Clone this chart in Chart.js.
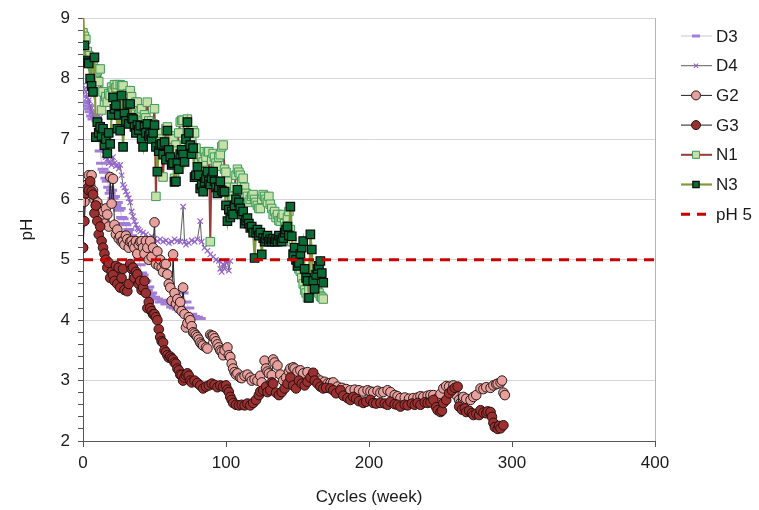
<!DOCTYPE html>
<html>
<head>
<meta charset="utf-8">
<script src="https://cdn.jsdelivr.net/npm/chart.js@4.4.1/dist/chart.umd.min.js"></script>
<style>
  html, body { margin: 0; padding: 0; background: #fff; }
  #wrap { width: 759px; height: 510px; }
</style>
</head>
<body>
<div id="wrap"><canvas id="chart" width="759" height="510"></canvas></div>
<script>
// weeks for the N series (one reading per week)
const weeks = [
  0,1,2,3,4,5,6,7,8,9, 10,11,12,13,14,15,16,17,18,19,
  20,21,22,23,24,25,26,27,28,29, 30,31,32,33,34,35,36,37,38,39,
  40,41,42,43,44,45,46,47,48,49, 50,51,52,53,54,55,56,57,58,59,
  60,61,62,63,64,65,66,67,68,69, 70,71,72,73,74,75,76,77,78,79,
  80,81,82,83,84,85,86,87,88,89, 90,91,92,93,94,95,96,97,98,99,
  100,101,102,103,104,105,106,107,108,109, 110,111,112,113,114,115,116,117,118,119,
  120,121,122,123,124,125,126,127,128,129, 130,131,132,133,134,135,136,137,138,139,
  140,141,142,143,144,145,146,147,148,149, 150,151,152,153,154,155,156,157,158,159,
  160,161,162,163,164,165,166,167,168
];

const d3Cycles = [
  0,1,2,3,4,5,6,7,8,9,
  10,11,12,13,14,15,16,17,18,19,
  20,21,22,23,24,25,26,27,28,29,
  30,31,32,33,34,35,36,37,38,39,
  40,41,42,43,44,45,46,47,48,50,
  52,54,56,58,60,62,64,66,68,70,
  72,74,76,78,80,82
];
const d3PH = [
  7.7,7.6,7.62,7.5,7.55,7.45,7.38,7.33,7.4,7.36,
  7.3,7.0,6.8,6.6,6.5,6.45,6.35,6.3,6.2,6.1,
  6.15,6.02,6.05,5.9,5.95,5.82,5.85,5.7,5.68,5.6,
  5.58,5.45,5.5,5.38,5.4,5.28,5.3,5.18,5.1,5.02,
  4.92,4.78,4.75,4.62,4.65,4.5,4.55,4.42,4.45,4.38,
  4.35,4.3,4.33,4.27,4.3,4.22,4.2,4.18,4.15,4.45,
  4.3,4.2,4.1,4.06,4.05,4.03
];

const d4Cycles = [
  0,1,2,3,4,5,6,7,8,10,
  12,14,15,16,17,18,19,20,21,22,
  23,24,25,26,27,28,29,30,31,32,
  33,34,35,36,37,38,39,40,42,44,
  46,48,50,52,54,56,58,60,62,64,
  66,68,70,71,72,74,76,78,80,82,
  83,85,87,89,91,93,95,96,97,98,
  99,100,101,102,103
];
const d4PH = [
  7.89,7.82,7.78,7.69,7.64,7.55,7.45,7.4,7.33,7.3,
  7.36,7.0,6.74,6.7,6.67,6.6,6.62,6.57,6.7,6.6,
  6.55,6.57,6.51,6.57,6.4,6.24,6.2,6.13,6.08,6.02,
  5.95,5.8,5.72,5.64,5.58,5.52,5.5,5.47,5.45,5.42,
  5.36,5.39,5.35,5.31,5.34,5.3,5.32,5.28,5.3,5.34,
  5.31,5.3,5.88,5.3,5.25,5.28,5.32,5.3,5.34,5.64,
  5.3,5.2,5.15,5.09,5.05,5.0,4.98,4.85,4.8,4.93,
  4.85,4.95,4.98,4.82,4.98
];

const g2Cycles = [
  0,1,2,3,4,5,6,7,8,9,
  10,11,12,13,14,15,16,17,18,19,
  20,21,22,23,24,25,26,27,28,29,
  30,31,32,33,34,35,36,37,38,39,
  40,41,42,43,44,45,46,47,48,49,
  50,51,52,53,54,55,56,57,58,59,
  60,61,62,63,64,65,66,67,68,69,
  70,71,72,73,74,75,76,77,78,79,
  80,81,82,83,84,86,87,89,90,91,
  92,93,94,95,96,97,98,99,101,102,
  103,104,105,106,107,108,110,111,113,115,
  117,118,120,122,124,125,127,128,129,130,
  132,133,134,136,138,140,142,144,145,147,
  148,150,152,154,157,160,163,166,169,171,
  173,175,178,181,184,187,190,193,196,199,
  201,203,206,208,210,213,215,218,220,222,
  225,228,231,234,236,238,241,243,245,248,
  250,252,254,256,259,261,263,264,266,268,
  271,273,275,278,280,282,285,287,289,290,
  292,293,294,295
];
const g2PH = [
  5.2,5.96,6.1,6.25,6.4,6.24,6.4,6.15,6.0,5.9,
  5.95,5.8,5.85,5.7,5.8,5.6,5.85,5.75,5.55,6.37,
  5.93,6.34,5.58,5.42,5.5,5.35,5.39,5.3,5.31,5.25,
  5.4,5.34,5.2,5.3,5.31,5.25,5.2,5.31,5.1,5.25,
  5.3,5.31,5.2,5.1,5.31,5.2,5.0,5.31,5.05,5.2,
  5.62,4.93,5.14,4.9,5.0,4.87,4.8,4.93,4.93,4.76,
  4.6,4.54,4.32,5.09,4.45,4.27,4.35,4.2,4.3,4.15,
  4.54,4.1,3.88,3.95,4.05,4.0,3.9,3.8,3.78,3.75,
  3.72,3.68,3.63,3.6,3.58,3.55,3.53,3.76,3.74,3.74,
  3.7,3.65,3.6,3.55,3.5,3.48,3.42,3.5,3.55,3.42,
  3.39,3.28,3.2,3.14,3.1,3.12,3.05,3.04,3.08,3.1,
  3.05,3.0,3.02,3.0,3.08,2.97,3.33,3.2,3.15,3.12,
  3.09,3.35,3.3,3.25,3.1,3.0,3.05,3.15,3.2,3.22,
  3.2,3.15,3.17,3.12,3.14,3.08,3.05,3.0,2.98,2.95,
  2.96,2.97,2.9,2.88,2.86,2.84,2.85,2.84,2.82,2.84,
  2.82,2.81,2.83,2.8,2.81,2.84,2.81,2.76,2.74,2.71,
  2.72,2.7,2.71,2.72,2.74,2.73,2.75,2.76,2.76,2.71,
  2.78,2.87,2.91,2.9,2.92,2.76,2.68,2.63,2.73,2.7,
  2.68,2.73,2.76,2.87,2.86,2.89,2.88,2.92,2.94,2.95,
  2.97,3.0,2.8,2.76
];

const g3Cycles = [
  0,1,2,3,4,5,6,7,8,9,
  10,11,12,13,14,15,16,17,18,19,
  20,21,22,23,24,25,26,27,28,29,
  31,32,33,34,35,36,37,38,39,40,
  41,42,43,44,45,46,47,48,49,50,
  51,52,53,54,55,56,57,58,59,60,
  61,62,63,64,65,66,67,68,69,70,
  71,72,73,74,75,76,78,80,82,84,
  86,88,90,92,94,96,98,100,101,102,
  103,104,105,107,109,111,113,115,117,119,
  121,123,124,126,128,129,131,132,133,135,
  137,139,141,143,145,147,149,151,153,155,
  157,159,161,162,164,166,168,170,173,175,
  177,180,182,185,187,189,191,193,196,198,
  201,203,205,208,211,213,215,218,220,222,
  225,227,230,232,234,236,239,241,243,245,
  247,248,250,251,252,254,256,258,260,262,
  263,265,267,268,270,272,273,275,277,278,
  280,282,283,285,286,287,288,290,291,292,
  294
];
const g3PH = [
  5.2,5.64,6.1,6.18,6.15,6.3,6.13,6.08,5.77,5.9,
  5.64,5.42,5.55,5.31,5.2,5.1,5.0,4.87,4.95,4.7,
  4.8,4.75,4.65,4.9,4.6,4.87,4.54,4.7,4.85,4.5,
  4.48,4.6,4.93,4.85,4.87,4.7,4.8,4.76,4.6,4.65,
  4.5,4.54,4.65,4.45,4.2,4.3,4.2,4.15,4.1,4.1,
  4.05,4.0,3.85,3.72,3.65,3.63,3.5,3.47,3.42,3.38,
  3.4,3.37,3.35,3.3,3.28,3.2,3.17,3.1,3.09,3.0,
  3.05,3.09,3.12,3.08,3.0,2.97,3.0,2.96,2.92,2.87,
  2.9,2.92,2.95,2.93,2.89,2.92,2.9,2.92,2.85,2.81,
  2.73,2.68,2.63,2.6,2.59,2.6,2.59,2.62,2.59,2.63,
  2.68,2.76,2.82,2.84,2.9,2.81,2.84,2.97,2.95,2.8,
  2.76,2.81,2.87,2.95,3.05,2.92,2.87,3.0,2.95,2.92,
  2.98,3.05,3.13,3.0,2.95,2.9,2.87,2.88,2.87,2.84,
  2.79,2.84,2.75,2.71,2.68,2.73,2.7,2.66,2.63,2.65,
  2.68,2.63,2.62,2.63,2.62,2.6,2.65,2.61,2.6,2.57,
  2.6,2.59,2.62,2.6,2.63,2.6,2.64,2.63,2.64,2.68,
  2.56,2.51,2.48,2.5,2.63,2.68,2.79,2.84,2.88,2.9,
  2.57,2.52,2.54,2.48,2.5,2.46,2.43,2.45,2.43,2.51,
  2.47,2.46,2.49,2.48,2.4,2.3,2.23,2.2,2.25,2.21,
  2.26
];

const n1PH = [
  8.76,8.7,8.65,8.45,8.38,8.3,8.24,8.2,8.16,8.1,
  8.13,7.95,8.16,7.48,7.78,7.61,7.7,7.61,7.75,7.72,
  7.86,7.8,7.9,7.85,7.9,7.7,7.9,7.88,7.88,7.65,
  7.7,7.75,7.6,7.8,7.7,7.5,7.55,7.61,7.61,7.4,
  7.45,7.5,7.3,7.4,7.35,7.61,7.3,7.2,7.07,7.25,
  7.5,6.05,7.1,7.0,6.95,6.84,6.37,6.9,7.17,7.2,
  6.95,7.05,6.85,7.0,6.35,6.9,6.8,7.1,7.28,7.31,
  7.31,6.9,7.0,7.33,6.95,6.9,7.0,7.14,7.1,6.85,
  6.7,6.6,6.18,6.7,6.62,6.79,6.7,6.79,6.79,5.3,
  6.65,6.76,6.7,6.6,6.55,6.7,6.74,6.87,6.9,6.5,
  6.45,6.3,6.2,6.1,6.05,6.0,6.2,6.4,6.5,6.45,
  6.4,6.3,6.35,6.2,6.1,6.05,5.95,6.0,6.05,6.08,
  6.0,5.95,5.9,5.85,5.85,6.0,6.08,6.05,6.0,5.95,
  6.05,5.92,5.85,5.75,5.8,5.7,5.75,5.65,5.64,5.7,
  5.75,5.6,5.55,5.7,5.8,5.5,5.3,5.1,5.05,5.0,
  4.9,4.85,4.81,4.7,4.6,4.5,4.45,4.37,4.5,4.7,
  4.8,4.9,4.75,4.6,4.5,4.45,4.4,4.38,4.35
];

const n3PH = [
  9.2,8.55,8.3,8.27,8.25,8.0,7.88,7.78,8.35,7.03,
  7.28,7.1,7.2,7.05,7.17,6.9,7.0,6.76,7.1,6.92,
  7.4,7.69,7.5,7.56,7.17,7.4,7.14,7.72,6.87,7.42,
  7.3,7.58,7.25,7.58,7.35,7.33,7.2,7.1,7.23,7.15,
  7.22,7.0,6.87,7.2,7.1,7.25,7.05,7.08,7.0,7.1,
  7.23,6.87,6.46,6.8,6.9,6.92,6.74,6.95,6.66,7.14,
  6.82,6.7,6.57,6.6,6.29,6.3,6.6,6.5,6.75,6.82,
  6.74,6.62,7.0,7.28,7.1,6.9,6.75,6.85,6.37,6.4,
  6.54,6.4,6.18,6.24,6.13,6.29,6.35,6.46,6.3,6.25,
  6.35,6.46,6.3,6.2,6.1,6.2,6.3,6.15,6.13,6.13,
  5.9,5.64,5.83,5.7,5.8,5.75,5.9,6.0,6.16,5.95,
  5.85,5.75,5.8,5.6,5.65,5.69,5.6,5.53,5.55,5.45,
  5.03,5.45,5.5,5.4,5.45,5.09,5.36,5.3,5.35,5.4,
  5.3,5.34,5.3,5.35,5.3,5.34,5.3,5.4,5.33,5.3,
  5.36,5.45,5.5,5.55,5.4,5.88,5.39,5.09,5.2,5.0,
  4.9,4.95,5.1,5.2,5.31,4.85,4.7,4.65,4.37,5.42,
  5.17,4.65,4.52,4.75,4.85,4.9,4.98,4.78,4.62
];

const refCycles = [0, 400];
const refPH = [5, 5];

const xTicks = [0, 100, 200, 300, 400];

function series(xs, ys) {
  return xs.map((x, i) => ({ x: x, y: ys[i] }));
}

const FONT = "'Liberation Sans', Arial, sans-serif";
const isWhole = (v) => Math.abs(v - Math.round(v)) < 1e-6;

// legend drawn at the right like the original spreadsheet chart
const sideLegend = {
  id: "sideLegend",
  afterDraw(chart) {
    const ctx = chart.ctx;
    ctx.save();
    chart.data.datasets.forEach((ds, i) => {
      const y = 36 + i * 29.7;
      ctx.strokeStyle = ds.borderColor;
      ctx.lineWidth = ds.borderWidth;
      ctx.setLineDash(ds.borderDash ? [9, 7] : []);
      ctx.beginPath();
      ctx.moveTo(681, y);
      ctx.lineTo(712, y);
      ctx.stroke();
      ctx.setLineDash([]);
      if (ds.pointRadius > 0) {
        ctx.fillStyle = ds.pointBackgroundColor;
        ctx.strokeStyle = ds.pointBorderColor;
        ctx.lineWidth = ds.pointBorderWidth;
        Chart.helpers.drawPoint(ctx, {
          pointStyle: ds.pointStyle,
          radius: ds.legendRadius,
          borderWidth: ds.pointBorderWidth,
          rotation: 0,
        }, 696, y);
      }
      ctx.fillStyle = "#1a1a1a";
      ctx.font = "17px " + FONT;
      ctx.textAlign = "left";
      ctx.textBaseline = "middle";
      ctx.fillText(ds.label, 716, y + 1);
    });
    ctx.restore();
  },
};

const purple = "#9466CC";

new Chart(document.getElementById("chart"), {
  type: "scatter",
  data: {
    datasets: [
      {
        label: "D3",
        data: series(d3Cycles, d3PH),
        showLine: true,
        borderColor: "#C8C8C8",
        borderWidth: 1,
        pointStyle: "line",
        pointRadius: 5.5,
        legendRadius: 4,
        pointBorderColor: "#A27ED6",
        pointBackgroundColor: "#A27ED6",
        pointBorderWidth: 3,
        order: 6,
      },
      {
        label: "D4",
        data: series(d4Cycles, d4PH),
        showLine: true,
        borderColor: "#5E5E5E",
        borderWidth: 1,
        pointStyle: "crossRot",
        pointRadius: 3.8,
        legendRadius: 3,
        pointBorderColor: purple,
        pointBackgroundColor: purple,
        pointBorderWidth: 1.2,
        order: 5,
      },
      {
        label: "G2",
        data: series(g2Cycles, g2PH),
        showLine: true,
        borderColor: "#1E1E1E",
        borderWidth: 1,
        pointStyle: "circle",
        pointRadius: 4.8,
        legendRadius: 4.5,
        pointBackgroundColor: "#E8A09C",
        pointBorderColor: "#2A1A1A",
        pointBorderWidth: 1,
        order: 4,
      },
      {
        label: "G3",
        data: series(g3Cycles, g3PH),
        showLine: true,
        borderColor: "#1E1E1E",
        borderWidth: 1,
        pointStyle: "circle",
        pointRadius: 4.8,
        legendRadius: 4.5,
        pointBackgroundColor: "#9A3030",
        pointBorderColor: "#2A1010",
        pointBorderWidth: 1,
        order: 3,
      },
      {
        label: "N1",
        data: series(weeks, n1PH),
        showLine: true,
        borderColor: "#9C3A3A",
        borderWidth: 2,
        pointStyle: "rect",
        pointRadius: 6,
        legendRadius: 5,
        pointBackgroundColor: "#C6E0A8",
        pointBorderColor: "#3C9A5C",
        pointBorderWidth: 1,
        order: 2,
      },
      {
        label: "N3",
        data: series(weeks, n3PH),
        showLine: true,
        borderColor: "#809A3A",
        borderWidth: 2.2,
        pointStyle: "rect",
        pointRadius: 6,
        legendRadius: 4.5,
        pointBackgroundColor: "#0B6B36",
        pointBorderColor: "#0A0A0A",
        pointBorderWidth: 1.2,
        order: 1,
      },
      {
        label: "pH 5",
        data: series(refCycles, refPH),
        showLine: true,
        borderColor: "#CC0000",
        borderWidth: 3,
        borderDash: [10, 7],
        pointRadius: 0,
        order: 0,
      },
    ],
  },
  options: {
    responsive: false,
    animation: false,
    devicePixelRatio: 1,
    events: [],
    layout: { padding: { left: 0, right: 104, top: 15, bottom: 0 } },
    plugins: {
      legend: { display: false },
      tooltip: { enabled: false },
    },
    elements: { line: { tension: 0 } },
    scales: {
      x: {
        type: "linear",
        min: 0,
        max: 400,
        afterBuildTicks: (scale) => {
          scale.ticks = xTicks.map((v) => ({ value: v }));
        },
        afterFit: (scale) => { scale.height = 69; },
        ticks: {
          color: "#1a1a1a",
          font: { family: FONT, size: 17 },
          padding: 6,
          maxRotation: 0,
        },
        grid: {
          color: (c) => (c.tick && c.tick.value === 400 ? "#B4B4B4" : "rgba(0,0,0,0)"),
          tickColor: "#555",
          tickLength: 6,
        },
        border: { color: "#555", width: 1 },
        title: {
          display: true,
          text: "Cycles (week)",
          color: "#1a1a1a",
          font: { family: FONT, size: 17 },
          padding: { top: 0, bottom: 2 },
        },
      },
      y: {
        min: 2,
        max: 9,
        afterFit: (scale) => { scale.width = 83; },
        ticks: {
          stepSize: 0.2,
          autoSkip: false,
          color: "#1a1a1a",
          font: { family: FONT, size: 17 },
          padding: 8,
          callback: (v) => (isWhole(v) ? String(Math.round(v)) : ""),
        },
        grid: {
          color: (c) => (c.tick && isWhole(c.tick.value) ? "#D6D6D6" : "rgba(0,0,0,0)"),
          tickColor: "#555",
          tickLength: 5,
        },
        border: { color: "#555", width: 1 },
        title: {
          display: true,
          text: "pH",
          color: "#1a1a1a",
          font: { family: FONT, size: 17 },
          padding: { top: 17, bottom: 0 },
        },
      },
    },
  },
  plugins: [sideLegend],
});
</script>
</body>
</html>
